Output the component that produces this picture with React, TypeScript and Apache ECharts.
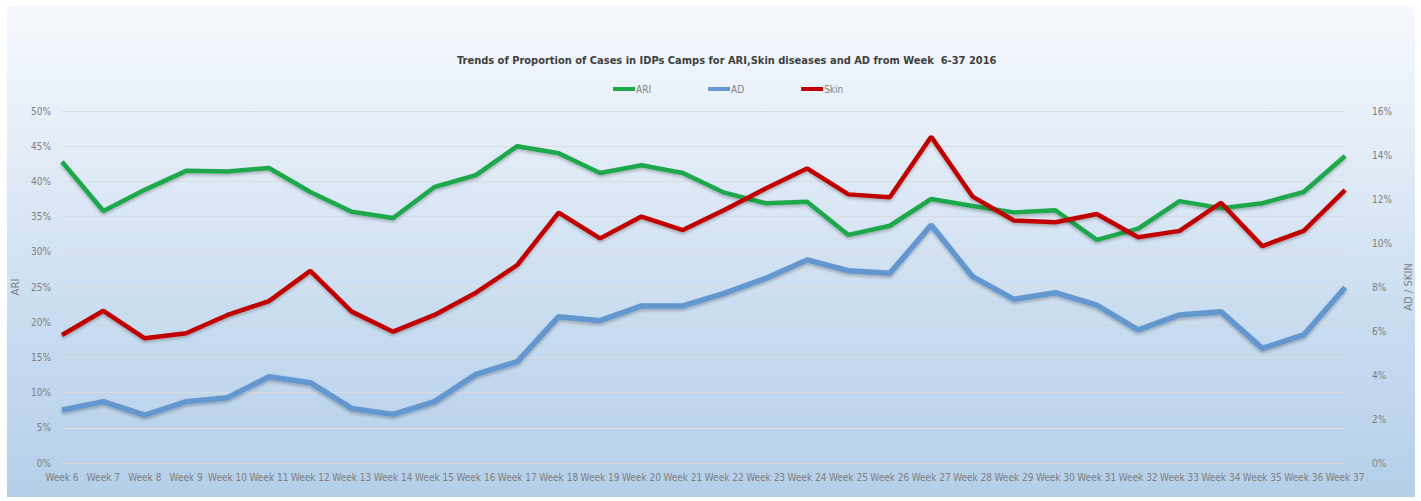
import React, { useEffect, useRef } from "react";
import * as echarts from "echarts";

const weeks = [
  "Week 6", "Week 7", "Week 8", "Week 9", "Week 10", "Week 11", "Week 12", "Week 13",
  "Week 14", "Week 15", "Week 16", "Week 17", "Week 18", "Week 19", "Week 20", "Week 21",
  "Week 22", "Week 23", "Week 24", "Week 25", "Week 26", "Week 27", "Week 28", "Week 29",
  "Week 30", "Week 31", "Week 32", "Week 33", "Week 34", "Week 35", "Week 36", "Week 37",
];

// ARI, left axis (%)
const ari = [
  42.8, 35.8, 38.8, 41.5, 41.4, 41.9, 38.5, 35.7, 34.8, 39.2, 40.9, 45.0, 44.0, 41.2, 42.3, 41.2,
  38.4, 36.9, 37.1, 32.4, 33.7, 37.5, 36.5, 35.6, 35.9, 31.7, 33.3, 37.2, 36.2, 36.9, 38.5, 43.6,
];

// AD, right axis (%)
const ad = [
  2.41, 2.79, 2.18, 2.79, 2.97, 3.92, 3.65, 2.48, 2.21, 2.79, 4.03, 4.61, 6.65, 6.47, 7.14, 7.14,
  7.71, 8.39, 9.23, 8.74, 8.62, 10.82, 8.47, 7.44, 7.74, 7.18, 6.05, 6.73, 6.88, 5.21, 5.82, 7.98,
];

// Skin, right axis (%)
const skin = [
  5.82, 6.92, 5.67, 5.9, 6.73, 7.36, 8.73, 6.88, 5.97, 6.73, 7.74, 9.0, 11.38, 10.21, 11.2, 10.59,
  11.5, 12.48, 13.39, 12.21, 12.08, 14.83, 12.11, 11.02, 10.94, 11.32, 10.26, 10.55, 11.83, 9.86, 10.55, 12.41,
];

const titleText =
  "Trends of Proportion of Cases in IDPs Camps for ARI,Skin diseases and AD from Week  6-37 2016";

const narrow = "'DejaVu Sans Condensed', 'Liberation Sans Narrow', sans-serif";

export default function App() {
  const ref = useRef<HTMLDivElement>(null);

  useEffect(() => {
    if (!ref.current) return;
    const chart = echarts.init(ref.current, undefined, { renderer: "svg" });
    const lineShadow = {
      shadowColor: "rgba(0,0,0,0.25)",
      shadowBlur: 3,
      shadowOffsetY: 2,
    };
    chart.setOption({
      animation: false,
      backgroundColor: "transparent",
      title: {
        text: titleText,
        left: 452,
        top: 50,
        textStyle: {
          fontFamily: narrow,
          fontSize: 11,
          fontWeight: "bold",
          color: "#404040",
        },
      },
      legend: {
        top: 79,
        left: 608,
        itemGap: 57,
        itemWidth: 22,
        itemHeight: 4,
        icon: "rect",
        textStyle: { fontFamily: narrow, fontSize: 10, color: "#7f7f7f", padding: [0, 0, 0, -4] },
        data: ["ARI", "AD", "Skin"],
      },
      grid: { left: 62, right: 75, top: 111, bottom: 38, containLabel: false },
      xAxis: {
        type: "category",
        data: weeks,
        boundaryGap: false,
        axisLine: { show: false },
        axisTick: { show: false },
        axisLabel: {
          interval: 0,
          margin: 9,
          fontFamily: narrow,
          fontSize: 10,
          color: "#7f7f7f",
        },
        splitLine: { show: false },
      },
      yAxis: [
        {
          type: "value",
          min: 0,
          max: 50,
          interval: 5,
          name: "ARI",
          nameLocation: "middle",
          nameRotate: 90,
          nameGap: 29,
          nameTextStyle: { fontFamily: "'DejaVu Sans', sans-serif", fontSize: 10, color: "#7f7f7f" },
          axisLine: { show: false },
          axisTick: { show: false },
          axisLabel: {
            formatter: "{value}%",
            margin: 11,
            fontFamily: narrow,
            fontSize: 10,
            color: "#7f7f7f",
          },
          splitLine: { show: true, lineStyle: { color: "#d9dde3", width: 1 } },
        },
        {
          type: "value",
          min: 0,
          max: 16,
          interval: 2,
          name: "AD / SKIN",
          nameLocation: "middle",
          nameRotate: 90,
          nameGap: 45,
          nameTextStyle: { fontFamily: "'DejaVu Sans', sans-serif", fontSize: 10, color: "#7f7f7f" },
          axisLine: { show: false },
          axisTick: { show: false },
          axisLabel: {
            formatter: "{value}%",
            margin: 27,
            fontFamily: narrow,
            fontSize: 10,
            color: "#7f7f7f",
          },
          splitLine: { show: false },
        },
      ],
      series: [
        {
          name: "ARI",
          type: "line",
          yAxisIndex: 0,
          data: ari,
          symbol: "none",
          color: "#1ea84c",
          lineStyle: { width: 4.5, color: "#1ea84c", ...lineShadow },
          z: 3,
        },
        {
          name: "AD",
          type: "line",
          yAxisIndex: 1,
          data: ad,
          symbol: "none",
          color: "#6497cf",
          lineStyle: { width: 5.5, color: "#6497cf", ...lineShadow },
          z: 2,
        },
        {
          name: "Skin",
          type: "line",
          yAxisIndex: 1,
          data: skin,
          symbol: "none",
          color: "#c00000",
          lineStyle: { width: 4.5, color: "#c00000", ...lineShadow },
          z: 4,
        },
      ],
    });
    return () => chart.dispose();
  }, []);

  return (
    <div style={{ position: "absolute", left: 0, top: 0, width: 1421, height: 501, background: "#ffffff" }}>
      <div
        style={{
          position: "absolute",
          left: 7,
          top: 5,
          width: 1408,
          height: 492,
          background: "linear-gradient(to bottom, #f6f9fd 0%, #e6eef8 25%, #c8dcf0 65%, #b5cfe9 100%)",
        }}
      />
      <div ref={ref} style={{ position: "absolute", left: 0, top: 0, width: 1421, height: 501 }} />
    </div>
  );
}
